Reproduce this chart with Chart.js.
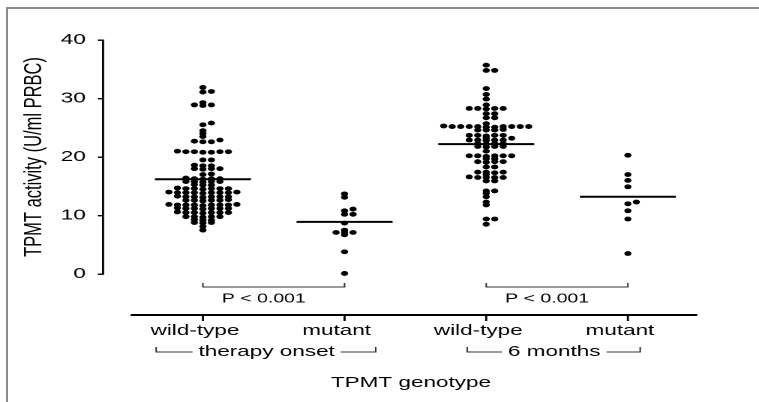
<!DOCTYPE html>
<html>
<head>
<meta charset="utf-8">
<script src="https://cdn.jsdelivr.net/npm/chart.js@4.4.1/dist/chart.umd.min.js"></script>
<style>
    html, body { margin: 0; padding: 0; background: #fff; }
    #page { position: relative; width: 759px; height: 402px; overflow: hidden; background: #fff; }
    #frame { position: absolute; left: 6px; top: 7px; right: -4px; bottom: -4px;
             border-top: 2px solid #8c8c8c; border-left: 2px solid #8c8c8c; }
    /* the original figure is stretched sideways, so draw narrow and widen */
    #wrap { position: absolute; left: 0; top: 0; width: 506px; height: 402px;
            transform: scaleX(1.5); transform-origin: 0 0; }
</style>
</head>
<body>
<div id="page">
    <div id="frame"></div>
    <div id="wrap"><canvas id="dotChart" width="506" height="402"></canvas></div>
</div>
<script>
const genotypes = ["wild-type", "mutant", "wild-type", "mutant"];
const periods = ["therapy onset", "6 months"];
const pText = "P < 0.001";
const yTicks = [0, 10, 20, 30, 40];

// TPMT activity per patient, U/ml PRBC
const onsetWild = [
    31.9, 31.1, 31.2, 29.3, 28.9, 28.8, 28.9, 25.8, 25.5, 24.5, 24.0, 23.5,
    22.9, 22.6, 22.6, 22.7, 20.9, 20.8, 20.9, 20.9, 21.0, 20.9, 20.8,
    19.5, 19.5, 18.5, 18.6, 18.5, 18.0, 18.0, 17.9, 18.0, 17.0, 17.1,
    16.3, 16.4, 16.2, 16.3, 16.3, 15.8, 15.8, 15.7, 15.8, 15.8,
    15.2, 15.2, 15.3, 14.6, 14.6, 14.5, 14.6, 14.7, 14.6, 14.6,
    13.9, 13.9, 14.0, 13.9, 13.8, 13.9, 13.9, 14.0, 13.9,
    13.2, 13.2, 13.3, 13.2, 13.1, 13.2, 13.2,
    12.6, 12.6, 12.5, 12.6, 12.6, 12.7,
    11.8, 11.8, 11.9, 11.8, 11.7, 11.8, 11.8, 11.9, 11.8,
    11.2, 11.2, 11.1, 11.2, 11.2, 11.3, 11.2,
    10.5, 10.5, 10.6, 10.5, 10.4, 10.5, 10.5,
    9.8, 9.8, 9.7, 9.8, 9.8, 9.2, 9.2, 9.3, 8.8, 8.8, 8.7, 8.1, 7.5
];
const onsetMutant = [13.7, 13.1, 11.1, 10.8, 10.2, 10.2, 8.7, 7.5, 7.1, 7.1, 7.1, 6.7, 3.8, 0.1];
const monthsWild = [
    35.7, 34.8, 34.8, 31.7, 30.7, 29.9, 28.9, 28.3, 28.3, 28.2, 28.3, 28.3,
    27.4, 27.4, 26.7, 26.7, 25.7,
    25.2, 25.2, 25.1, 25.2, 25.2, 25.2, 25.3, 25.2, 25.2, 25.1, 25.2,
    24.6, 24.6, 24.6, 24.7, 23.7, 23.7, 23.6, 23.7, 23.7, 23.2, 23.2,
    22.9, 22.9, 22.9, 22.8, 22.9, 22.3, 22.3, 22.2, 22.3,
    21.8, 21.8, 21.8, 21.7, 21.0, 20.2, 20.2, 20.2, 20.1, 20.2, 20.2,
    19.7, 19.7, 19.2, 19.2, 19.2, 19.1, 18.3, 18.3,
    17.4, 17.4, 17.4, 17.3, 17.0, 16.5, 16.5, 16.6, 16.5, 16.5, 15.9, 15.9,
    14.2, 14.2, 13.8, 13.2, 12.3, 11.8, 9.4, 9.4, 8.5
];
const monthsMutant = [20.3, 17.0, 16.0, 14.9, 12.3, 12.0, 10.8, 9.4, 3.5];

const allGroups = [onsetWild, onsetMutant, monthsWild, monthsMutant];
const medians = [16.2, 8.9, 22.2, 13.2];

// spread equal values sideways so the dots do not sit on each other
function swarm(values, center) {
    const step = 0.06;
    const placed = [];
    values.slice().sort((a, b) => a - b).forEach(v => {
        for (let k = 0; k < 60; k++) {
            const off = k === 0 ? 0 : (k % 2 ? 1 : -1) * Math.ceil(k / 2) * step;
            const hit = placed.some(p =>
                Math.abs(p.y - v) < 0.35 && Math.abs(p.x - (center + off)) < step * 0.9);
            if (!hit) {
                placed.push({ x: center + off, y: v });
                break;
            }
        }
    });
    return placed;
}

const datasets = [];

allGroups.forEach((vals, i) => {
    datasets.push({
        data: swarm(vals, i + 1),
        backgroundColor: "#000",
        borderWidth: 0,
        pointRadius: 2.4,
        clip: false
    });
});

medians.forEach((m, i) => {
    datasets.push({
        data: [{ x: i + 1 - 0.339, y: m }, { x: i + 1 + 0.339, y: m }],
        showLine: true,
        borderColor: "#000",
        borderWidth: 2,
        pointRadius: 0,
        clip: false
    });
});

// axis line, brackets and group names under the plot
const extras = {
    id: "extras",
    afterDraw(chart) {
        const ctx = chart.ctx;
        const x = chart.scales.x;
        const base = chart.chartArea.bottom;
        const px = v => x.getPixelForValue(v);

        ctx.save();
        ctx.strokeStyle = "#000";
        ctx.fillStyle = "#000";

        // x axis
        ctx.lineWidth = 2;
        ctx.beginPath();
        ctx.moveTo(px(0.49), base + 41);
        ctx.lineTo(px(4.49), base + 41);
        ctx.stroke();

        ctx.lineWidth = 1.4;
        [1, 2, 3, 4].forEach(c => {
            ctx.beginPath();
            ctx.moveTo(px(c), base + 41);
            ctx.lineTo(px(c), base + 47);
            ctx.stroke();
        });

        // P value brackets
        ctx.font = "13px 'Liberation Sans', Arial, sans-serif";
        ctx.textAlign = "center";
        ctx.textBaseline = "middle";
        [[1, 2], [3, 4]].forEach(([a, b]) => {
            ctx.strokeStyle = "#333";
            ctx.lineWidth = 1;
            ctx.beginPath();
            ctx.moveTo(px(a), base + 9);
            ctx.lineTo(px(a), base + 13);
            ctx.lineTo(px(b), base + 13);
            ctx.lineTo(px(b), base + 9);
            ctx.stroke();
            ctx.fillText(pText, px(a + 0.43), base + 25);
        });

        // period brackets
        ctx.font = "15px 'Liberation Sans', Arial, sans-serif";
        const spans = [[0.67, 1.45, 2.22], [2.866, 3.48, 4.087]];
        spans.forEach(([l, c, r], i) => {
            const w = ctx.measureText(periods[i]).width;
            const y = base + 78;
            ctx.fillText(periods[i], px(c), y);
            ctx.lineWidth = 1;
            ctx.beginPath();
            ctx.moveTo(px(l), y - 5);
            ctx.lineTo(px(l), y);
            ctx.lineTo(px(c) - w / 2 - 4, y);
            ctx.moveTo(px(c) + w / 2 + 4, y);
            ctx.lineTo(px(r), y);
            ctx.lineTo(px(r), y - 5);
            ctx.stroke();
        });

        ctx.restore();
    }
};

Chart.defaults.font.family = "'Liberation Sans', Arial, sans-serif";
Chart.defaults.color = "#000";

new Chart(document.getElementById("dotChart"), {
    type: "scatter",
    data: { datasets: datasets },
    options: {
        responsive: false,
        devicePixelRatio: 2,
        animation: false,
        layout: { padding: { left: 0, right: 26.7, top: 40, bottom: 0 } },
        plugins: {
            legend: { display: false },
            tooltip: { enabled: false }
        },
        scales: {
            x: {
                type: "linear",
                position: "bottom",
                min: 0.295,
                max: 4.643,
                afterFit: s => { s.height = 128; },
                afterBuildTicks: s => { s.ticks = [1, 2, 3, 4].map(v => ({ value: v })); },
                grid: { display: false, drawTicks: false },
                border: { display: false },
                ticks: {
                    font: { size: 15 },
                    padding: 48,
                    labelOffset: -5.3,
                    maxRotation: 0,
                    autoSkip: false,
                    callback: v => genotypes[Math.round(v) - 1]
                },
                title: {
                    display: true,
                    text: "TPMT genotype",
                    font: { size: 15 },
                    padding: { top: 0, bottom: 10 }
                }
            },
            y: {
                min: 0,
                max: 40,
                afterFit: s => { s.width = 68.7; },
                afterBuildTicks: s => { s.ticks = yTicks.map(v => ({ value: v })); },
                grid: { drawOnChartArea: false, tickLength: 3.5, color: "#000", lineWidth: 1.4 },
                border: { display: true, color: "#000", width: 1.4 },
                ticks: { font: { size: 15 }, padding: 8 },
                title: {
                    display: true,
                    text: "TPMT activity (U/ml PRBC)",
                    font: { size: 16.5 },
                    padding: { top: 13, bottom: 0 }
                }
            }
        }
    },
    plugins: [extras]
});
</script>
</body>
</html>
